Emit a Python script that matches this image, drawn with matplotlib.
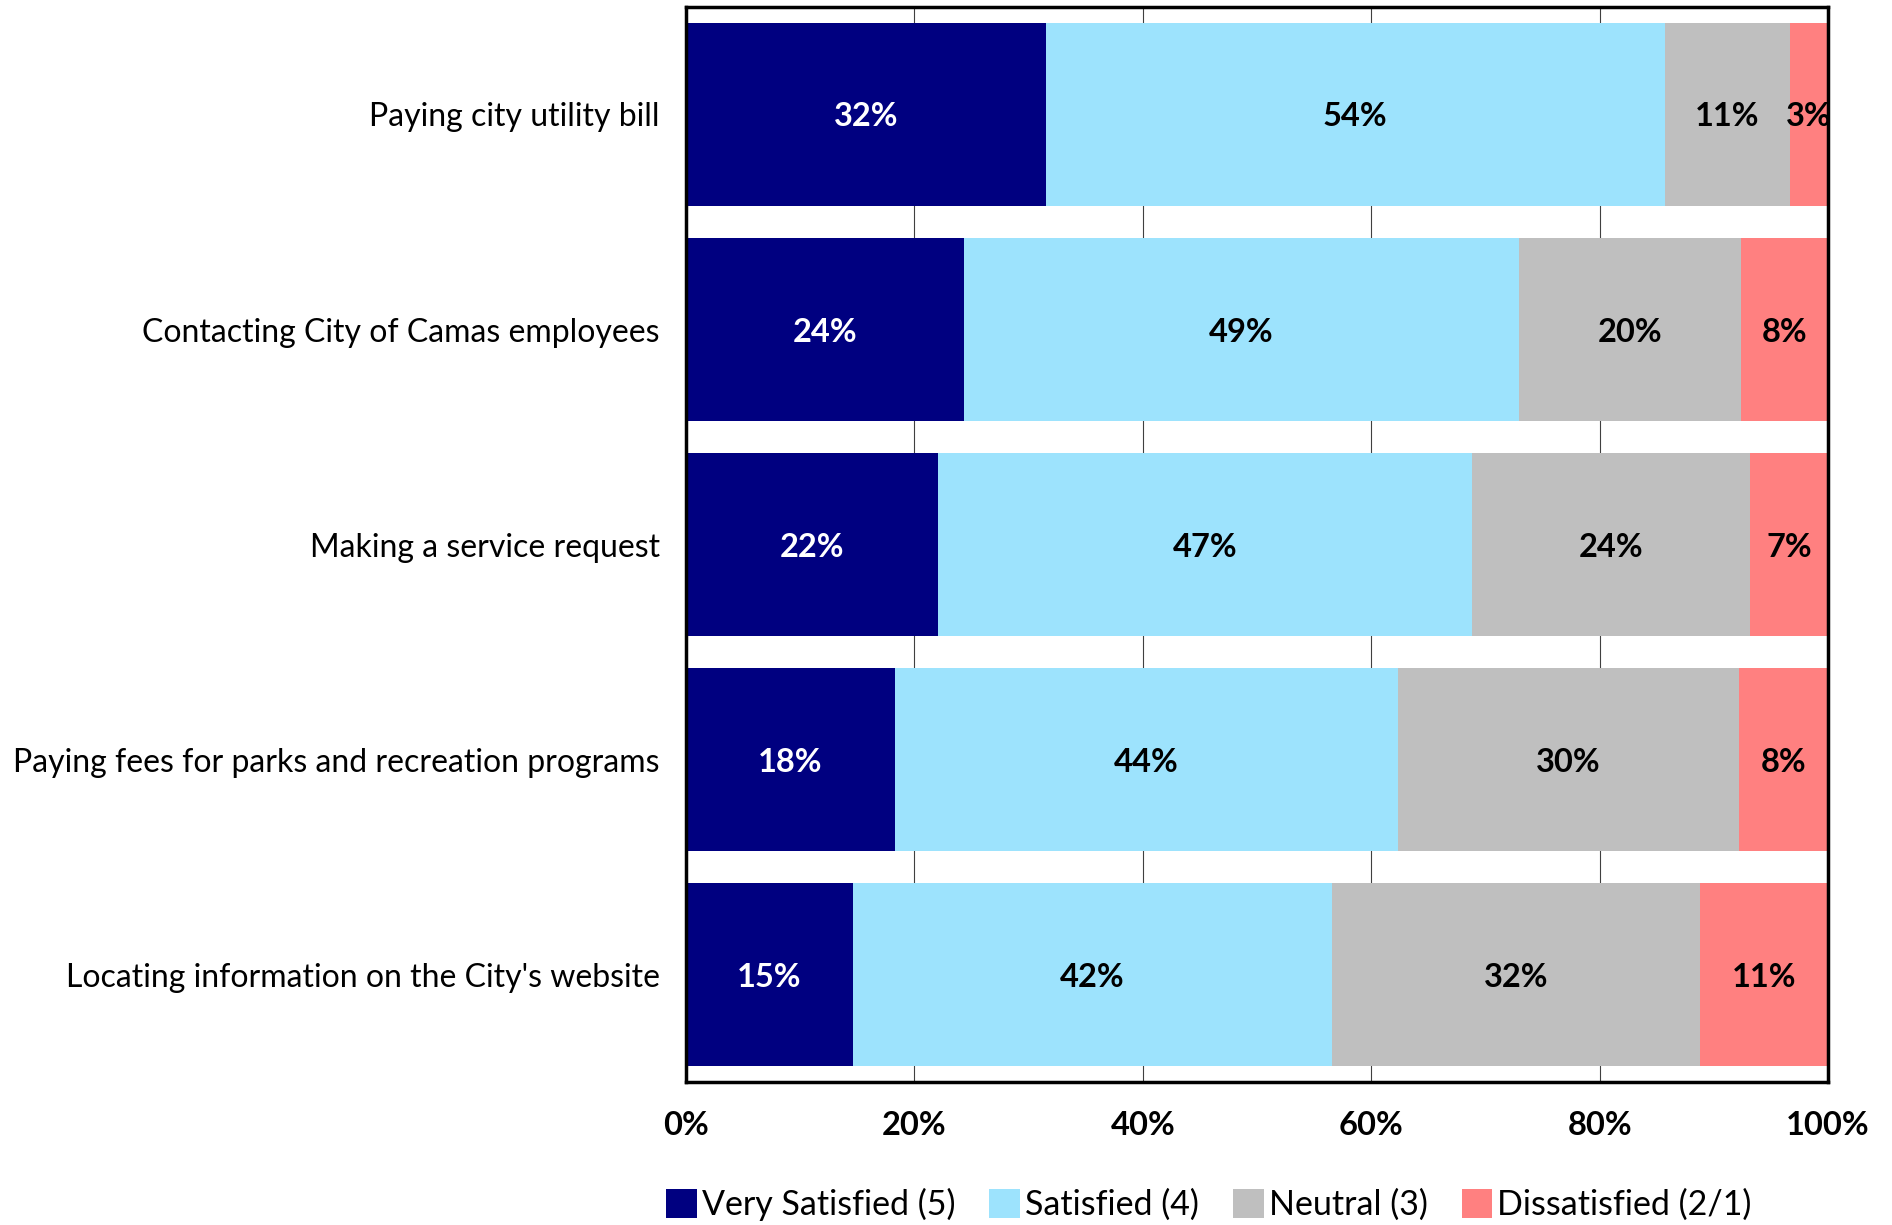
import matplotlib
matplotlib.use("Agg")
import matplotlib.pyplot as plt
import numpy as np

plt.rcParams["font.family"] = ["Lato", "DejaVu Sans"]

# survey items, top to bottom
items = [
    "Paying city utility bill",
    "Contacting City of Camas employees",
    "Making a service request",
    "Paying fees for parks and recreation programs",
    "Locating information on the City's website",
]
series = ["Very Satisfied (5)", "Satisfied (4)", "Neutral (3)", "Dissatisfied (2/1)"]
very_satisfied = [31.5, 24.3, 22.1, 18.3, 14.6]
satisfied = [54.2, 48.6, 46.7, 44.0, 42.0]
neutral = [11.0, 19.5, 24.4, 29.9, 32.2]
dissatisfied = [3.3, 7.6, 6.8, 7.8, 11.2]

colors = ["#000080", "#9DE3FD", "#BFBFBF", "#FF8080"]
text_colors = ["white", "black", "black", "black"]

fig, ax = plt.subplots(figsize=(18.92, 12.25), dpi=100)
fig.subplots_adjust(left=0.3626, right=0.9662, top=0.9943, bottom=0.1167)

y = np.arange(len(items))
left = np.zeros(len(items))
for name, vals, c, tc in zip(series, [very_satisfied, satisfied, neutral, dissatisfied], colors, text_colors):
    vals = np.array(vals)
    bars = ax.barh(y, vals, left=left, height=0.85, color=c, label=name, zorder=2)
    for b, v in zip(bars, vals):
        ax.text(b.get_x() + b.get_width() / 2, b.get_y() + b.get_height() / 2,
                f"{round(v)}%", ha="center", va="center_baseline", color=tc,
                fontsize=23.5, fontweight="bold", zorder=3)
    left += vals

ax.set_xlim(0, 100)
ax.set_ylim(len(items) - 0.5, -0.5)
ax.set_yticks(y)
ax.set_yticklabels(items, fontsize=23)
ax.set_xticks([0, 20, 40, 60, 80, 100])
ax.set_xticklabels([f"{t}%" for t in [0, 20, 40, 60, 80, 100]], fontsize=23.5, fontweight="bold")
ax.tick_params(axis="y", length=0, pad=19)
ax.tick_params(axis="x", length=0, pad=21)
ax.xaxis.grid(True, color="#404040", linewidth=0.8, zorder=0)
for s in ax.spines.values():
    s.set_linewidth(2.5)
    s.set_color("black")

fig.legend(loc="lower center", bbox_to_anchor=(0.639, -0.022), ncol=4, frameon=False,
           fontsize=24.5, handlelength=0.9, handleheight=0.9, handletextpad=0.15, columnspacing=1.0)

fig.savefig("out.png", dpi=100)
